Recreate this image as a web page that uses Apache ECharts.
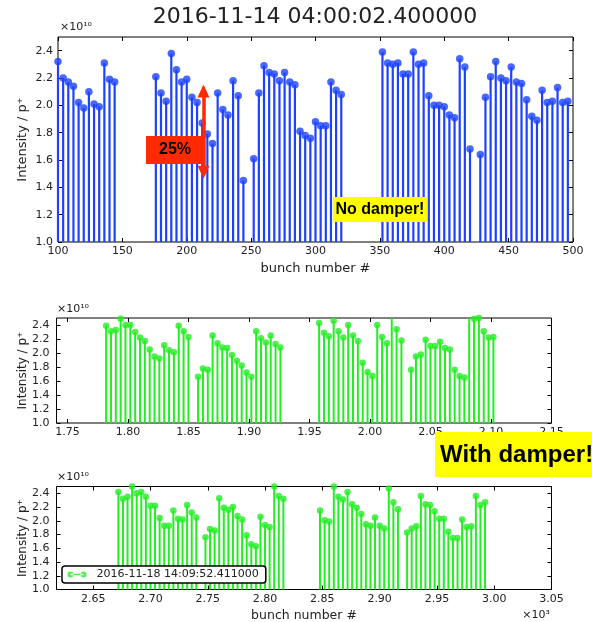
<!DOCTYPE html>
<html>
<head>
<meta charset="utf-8">
<title>Bunch intensity</title>
<script src="https://cdn.jsdelivr.net/npm/echarts@6/dist/echarts.min.js"></script>
<style>
html, body { margin: 0; padding: 0; background: #fff; }
#chart { width: 592px; height: 622px; }
</style>
</head>
<body>
<div id="chart"></div>
<script>
// bunches sit every 4 slots inside a train
const step = 4;

// top panel, 2016-11-14 (no damper)
const topStarts = [100, 176, 252, 352, 428];
const topValues = [
    [2.32, 2.20, 2.17, 2.14, 2.02, 1.98, 2.10, 2.01, 1.99, 2.31, 2.19, 2.17],
    [2.21, 2.09, 2.03, 2.38, 2.26, 2.17, 2.19, 2.06, 2.02, 1.87, 1.79, 1.72, 2.09, 1.97, 1.93, 2.18, 2.07, 1.45],
    [1.61, 2.09, 2.29, 2.24, 2.23, 2.18, 2.24, 2.17, 2.15, 1.81, 1.78, 1.76, 1.88, 1.85, 1.85, 2.17, 2.11, 2.08],
    [2.39, 2.31, 2.30, 2.31, 2.23, 2.23, 2.39, 2.30, 2.31, 2.07, 2.00, 2.00, 1.99, 1.93, 1.91, 2.34, 2.28, 1.68],
    [1.64, 2.06, 2.21, 2.32, 2.20, 2.18, 2.28, 2.17, 2.16, 2.04, 1.92, 1.89, 2.11, 2.02, 2.03, 2.13, 2.02, 2.03]
];

// middle panel (with damper)
const midStarts = [1782, 1858, 1958, 2034];
const midValues = [
    [2.39, 2.31, 2.33, 2.49, 2.40, 2.40, 2.30, 2.22, 2.17, 2.05, 1.95, 1.92, 2.11, 2.04, 2.01, 2.39, 2.31, 2.23],
    [1.66, 1.78, 1.76, 2.25, 2.14, 2.08, 2.07, 1.97, 1.89, 1.82, 1.72, 1.66, 2.31, 2.21, 2.15, 2.25, 2.13, 2.08],
    [2.43, 2.29, 2.24, 2.46, 2.31, 2.22, 2.40, 2.25, 2.17, 1.86, 1.73, 1.67, 2.40, 2.23, 2.14, 2.55, 2.34, 2.18],
    [1.76, 1.95, 1.98, 2.19, 2.10, 2.10, 2.16, 2.07, 2.05, 1.76, 1.67, 1.65, 2.55, 2.49, 2.50, 2.31, 2.22, 2.23]
];

// bottom panel, 2016-11-18 (with damper)
const botStarts = [2672, 2748, 2848, 2924];
const botValues = [
    [2.42, 2.32, 2.35, 2.50, 2.40, 2.42, 2.35, 2.22, 2.22, 2.04, 1.93, 1.93, 2.15, 2.03, 2.02, 2.23, 2.12, 2.05],
    [1.76, 1.88, 1.86, 2.33, 2.19, 2.16, 2.20, 2.07, 2.02, 1.79, 1.66, 1.63, 2.06, 1.94, 1.91, 2.50, 2.36, 2.32],
    [2.15, 2.01, 1.99, 2.50, 2.35, 2.31, 2.42, 2.24, 2.19, 2.10, 1.95, 1.93, 2.05, 1.93, 1.89, 2.47, 2.27, 2.17],
    [1.83, 1.89, 1.92, 2.36, 2.24, 2.23, 2.14, 2.03, 2.03, 1.84, 1.75, 1.75, 2.02, 1.91, 1.92, 2.36, 2.23, 2.27]
];

const topTicks = [100, 150, 200, 250, 300, 350, 400, 450, 500];
const midTicks = [1750, 1800, 1850, 1900, 1950, 2000, 2050, 2100, 2150];
const botTicks = [2650, 2700, 2750, 2800, 2850, 2900, 2950, 3000, 3050];
const yTicks = [1.0, 1.2, 1.4, 1.6, 1.8, 2.0, 2.2, 2.4];

const titleText = "2016-11-14 04:00:02.400000";
const legendName = "2016-11-18 14:09:52.411000";

const blue = "#1c42ff";
const green = "#22ee22";
const font = "DejaVu Sans";

function toPoints(starts, values) {
    let pts = [];
    starts.forEach(function (s, k) {
        values[k].forEach(function (v, i) {
            pts.push([s + i * step, v]);
        });
    });
    return pts;
}

const topData = toPoints(topStarts, topValues);
const midData = toPoints(midStarts, midValues);
const botData = toPoints(botStarts, botValues);

function xPair(grid, min, max, ticks, fmt, name) {
    let main = {
        type: "value", gridIndex: grid, min: min, max: max, position: "bottom",
        axisLine: { show: false },
        splitLine: { show: false },
        axisTick: { inside: true, length: 4, customValues: ticks, lineStyle: { color: "#000" } },
        axisLabel: {
            customValues: ticks, fontSize: 11, margin: 4, color: "#222", fontFamily: font,
            formatter: fmt
        }
    };
    if (name) {
        main.name = name;
        main.nameLocation = "middle";
        main.nameGap = 20;
        main.nameMoveOverlap = false;
        main.nameTextStyle = { fontSize: grid === 0 ? 13 : 12.5, color: "#222", fontFamily: font };
    }
    let top = {
        type: "value", gridIndex: grid, min: min, max: max, position: "top",
        axisLine: { show: false },
        splitLine: { show: false },
        axisLabel: { show: false },
        axisTick: { inside: true, length: 4, customValues: ticks, lineStyle: { color: "#000" } }
    };
    return [main, top];
}

function yPair(grid, nameSize, margin, gap) {
    let left = {
        type: "value", gridIndex: grid, min: 1.0, max: 2.5, position: "left",
        axisLine: { show: false },
        splitLine: { show: false },
        axisTick: { inside: true, length: 4, customValues: yTicks, lineStyle: { color: "#000" } },
        axisLabel: {
            customValues: yTicks, fontSize: 11, margin: margin, color: "#222", fontFamily: font,
            formatter: function (v) { return v.toFixed(1); }
        },
        name: "Intensity / p\u207a",
        nameLocation: "middle",
        nameGap: gap,
        nameRotate: 90,
        nameMoveOverlap: false,
        nameTextStyle: { fontSize: nameSize, color: "#222", fontFamily: font }
    };
    let right = {
        type: "value", gridIndex: grid, min: 1.0, max: 2.5, position: "right",
        axisLine: { show: false },
        splitLine: { show: false },
        axisLabel: { show: false },
        axisTick: { inside: true, length: 4, customValues: yTicks, lineStyle: { color: "#000" } }
    };
    return [left, right];
}

function kilo(v) { return (v / 1000).toFixed(2); }

const frame = { show: true, borderColor: "#000", borderWidth: 1, backgroundColor: "transparent", containLabel: false, outerBoundsMode: "none" };

let option = {
    animation: false,
    backgroundColor: "#fff",
    title: {
        text: titleText, left: 315, top: 6, padding: 0, textAlign: "center",
        textStyle: { fontSize: 22, fontWeight: "normal", color: "#222", fontFamily: font }
    },
    grid: [
        Object.assign({ left: 58, top: 37, width: 515, height: 205 }, frame),
        Object.assign({ left: 56.5, top: 318, width: 495, height: 105 }, frame),
        Object.assign({ left: 56.5, top: 486.5, width: 495, height: 103 }, frame)
    ],
    xAxis: [].concat(
        xPair(0, 100, 500, topTicks, function (v) { return String(v); }, "bunch number #"),
        xPair(1, 1741, 2150, midTicks, kilo, null),
        xPair(2, 2618, 3050, botTicks, kilo, "bunch number #")
    ),
    yAxis: [].concat(yPair(0, 13, 5, 29), yPair(1, 12, 7, 28), yPair(2, 12, 7, 28)),
    legend: {
        data: [legendName],
        left: 62, top: 566,
        padding: [3, 7, 3, 5.5],
        itemWidth: 19, itemHeight: 6,
        // line with a marker at each end
        icon: "path://M0,3a3,3 0 1,0 6,0a3,3 0 1,0 -6,0zM3,2.3L16,2.3L16,3.7L3,3.7zM13,3a3,3 0 1,0 6,0a3,3 0 1,0 -6,0z",
        backgroundColor: "#fff", borderColor: "#000", borderWidth: 1.5, borderRadius: 3,
        textStyle: { fontSize: 11, color: "#222", fontFamily: font, padding: [0, 0, 0, 5] },
        selectedMode: false
    },
    series: [
        {
            type: "bar", xAxisIndex: 0, yAxisIndex: 0, barWidth: 2.2, data: topData,
            itemStyle: { color: blue }, z: 2
        },
        {
            type: "scatter", xAxisIndex: 0, yAxisIndex: 0, symbolSize: 7.5, data: topData,
            itemStyle: { color: blue }, z: 3,
            markLine: {
                silent: true,
                symbol: ["triangle", "triangle"],
                symbolSize: [12, 13],
                label: { show: false },
                lineStyle: { color: "#ff2a00", width: 3.5, type: "solid" },
                data: [[{ coord: [213, 1.51] }, { coord: [213, 2.105] }]]
            }
        },
        {
            type: "bar", xAxisIndex: 2, yAxisIndex: 2, barWidth: 2, data: midData,
            itemStyle: { color: green }, z: 2
        },
        {
            type: "scatter", xAxisIndex: 2, yAxisIndex: 2, symbolSize: 6.5, data: midData,
            itemStyle: { color: green }, z: 3
        },
        {
            type: "bar", xAxisIndex: 4, yAxisIndex: 4, barWidth: 2, data: botData,
            itemStyle: { color: green }, z: 2
        },
        {
            name: legendName,
            type: "scatter", xAxisIndex: 4, yAxisIndex: 4, symbolSize: 6.5, data: botData,
            itemStyle: { color: green }, z: 3
        }
    ],
    graphic: [
        // exponent labels above each frame
        { type: "text", x: 60, y: 22, z: 100, style: { text: "\u00d710\u00b9\u2070", fontSize: 11, fill: "#222", fontFamily: font } },
        { type: "text", x: 57, y: 304, z: 100, style: { text: "\u00d710\u00b9\u2070", fontSize: 11, fill: "#222", fontFamily: font } },
        { type: "text", x: 57, y: 472, z: 100, style: { text: "\u00d710\u00b9\u2070", fontSize: 11, fill: "#222", fontFamily: font } },
        { type: "text", x: 536, y: 615, z: 100, style: { text: "\u00d710\u00b3", fontSize: 11, fill: "#222", fontFamily: font, align: "center", verticalAlign: "middle" } },
        // annotations
        { type: "rect", z: 100, shape: { x: 146, y: 136, width: 58, height: 28 }, style: { fill: "#ff2a00" } },
        { type: "text", z: 101, x: 175, y: 150, style: { text: "25%", font: "bold 16px 'Liberation Sans'", fill: "#000", align: "center", verticalAlign: "middle" } },
        { type: "rect", z: 100, shape: { x: 333, y: 197, width: 94, height: 25 }, style: { fill: "#ffff00" } },
        { type: "text", z: 101, x: 380, y: 209.5, style: { text: "No damper!", font: "bold 16px 'Liberation Sans'", fill: "#000", align: "center", verticalAlign: "middle" } },
        { type: "rect", z: 100, shape: { x: 435, y: 432, width: 160, height: 45 }, style: { fill: "#ffff00" } },
        { type: "text", z: 101, x: 440, y: 455, style: { text: "With damper!", font: "bold 24px 'Liberation Sans'", fill: "#000", align: "left", verticalAlign: "middle" } }
    ]
};

let myChart = echarts.init(document.getElementById("chart"));
myChart.setOption(option);
</script>
</body>
</html>
